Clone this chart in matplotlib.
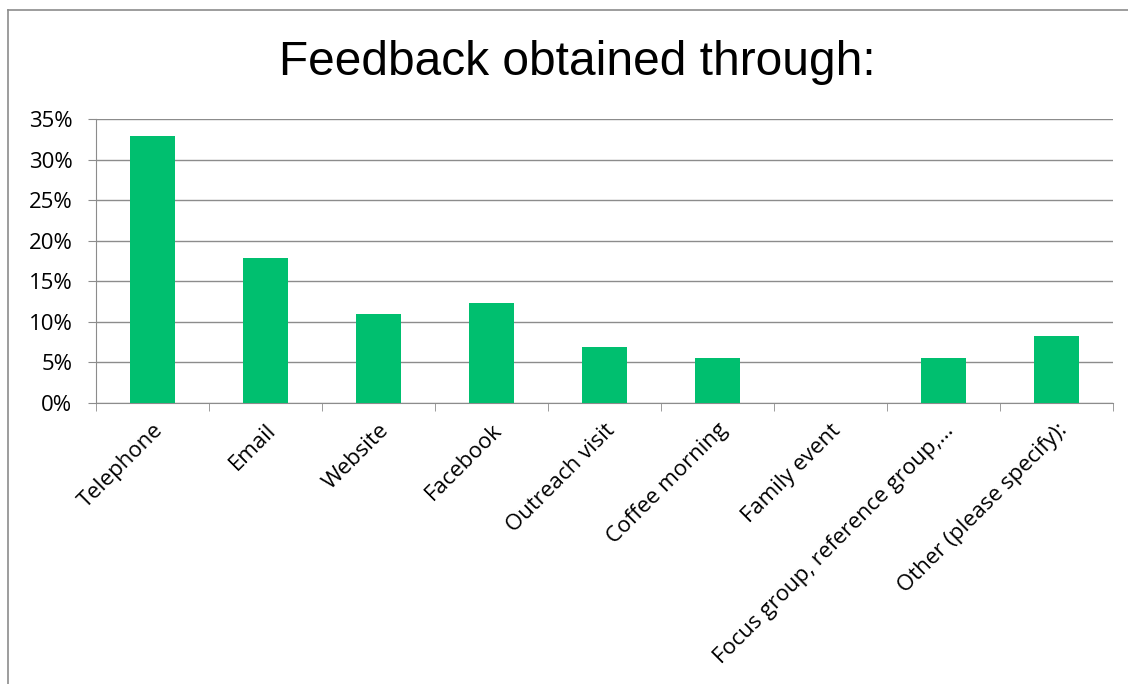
import matplotlib.pyplot as plt
from matplotlib.lines import Line2D
import numpy as np

categories = ['Telephone', 'Email', 'Website', 'Facebook', 'Outreach visit',
              'Coffee morning', 'Family event', 'Focus group, reference group,…',
              'Other (please specify):']
values = [32.9, 17.9, 11.0, 12.3, 6.9, 5.5, 0.0, 5.5, 8.2]
yticks = [0, 5, 10, 15, 20, 25, 30, 35]

fig = plt.figure(figsize=(11.28, 6.84), dpi=100)
ax = fig.add_axes([0.0851, 0.4108, 0.9016, 0.4152])

x = np.arange(len(categories))
ax.bar(x, values, width=0.4, color='#00BF6F', zorder=3)

ax.set_xlim(-0.5, len(categories) - 0.5)
ax.set_ylim(0, 35)
ax.set_yticks(yticks)
ax.set_yticklabels([f'{v}%' for v in yticks], fontsize=16, family='Open Sans')
ax.yaxis.grid(True, color='#8c8c8c', linewidth=1, zorder=0)

# category labels, with tick marks between categories
ax.set_xticks(x)
ax.set_xticklabels(categories, rotation=45, ha='right', rotation_mode='anchor',
                   fontsize=16, family='Open Sans')
ax.tick_params(axis='x', length=0, pad=12)
ax.set_xticks(np.arange(-0.5, len(categories)), minor=True)
ax.tick_params(axis='x', which='minor', length=6, color='#8c8c8c')
ax.tick_params(axis='y', length=6, color='#8c8c8c', pad=11)

for s in ['top', 'right']:
    ax.spines[s].set_visible(False)
for s in ['left', 'bottom']:
    ax.spines[s].set_color('#8c8c8c')

fig.text(0.5115, 0.909, 'Feedback obtained through:', ha='center', va='center',
         fontsize=34.5, family='Liberation Sans')

# chart frame (left and top edges)
fig.add_artist(Line2D([8 / 1128, 8 / 1128], [0, 1 - 10 / 684], color='#8c8c8c', lw=1.2))
fig.add_artist(Line2D([8 / 1128, 1], [1 - 10 / 684, 1 - 10 / 684], color='#8c8c8c', lw=1.2))

fig.savefig('out.png', dpi=100)
